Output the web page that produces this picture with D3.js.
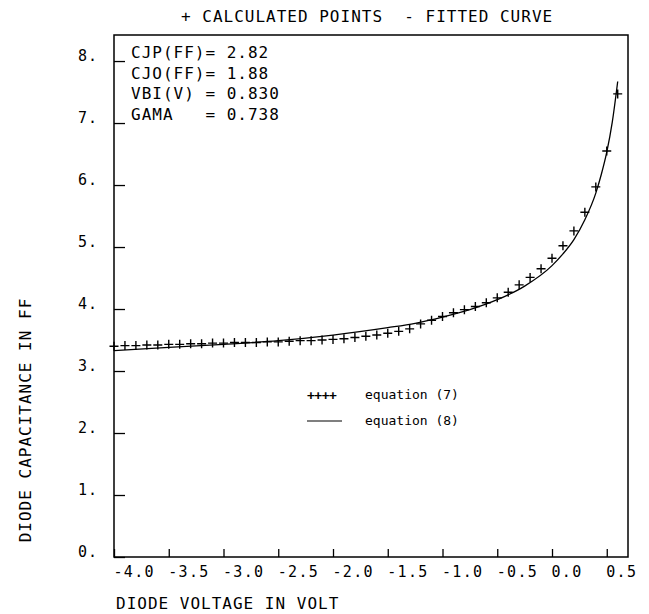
<!DOCTYPE html>
<html>
<head>
<meta charset="utf-8">
<script src="https://cdn.jsdelivr.net/npm/d3@7"></script>
<style>
  html, body { margin: 0; padding: 0; background: #fff; }
  svg { display: block; }
  text { font-family: "DejaVu Sans Mono", "Liberation Mono", monospace; fill: #000; white-space: pre; }
</style>
</head>
<body>
<svg id="chart" width="649" height="614"></svg>
<script>
// ---- data ----
const pointVoltage = [-4.0,-3.9,-3.8,-3.7,-3.6,-3.5,-3.4,-3.3,-3.2,-3.1,-3.0,-2.9,-2.8,-2.7,-2.6,-2.5,-2.4,-2.3,-2.2,-2.1,-2.0,-1.9,-1.8,-1.7,-1.6,-1.5,-1.4,-1.3,-1.2,-1.1,-1.0,-0.9,-0.8,-0.7,-0.6,-0.5,-0.4,-0.3,-0.2,-0.1,0.0,0.1,0.2,0.3,0.4,0.5,0.6];
const pointCap = [3.40,3.41,3.41,3.42,3.42,3.43,3.43,3.44,3.44,3.45,3.45,3.46,3.46,3.46,3.47,3.47,3.48,3.49,3.49,3.50,3.51,3.52,3.54,3.56,3.58,3.61,3.64,3.68,3.76,3.82,3.88,3.94,3.99,4.04,4.10,4.18,4.27,4.39,4.51,4.65,4.82,5.02,5.26,5.56,5.97,6.55,7.47];
const curveVoltage = [-4.0,-3.5,-3.0,-2.5,-2.0,-1.5,-1.25,-1.0,-0.75,-0.5,-0.25,0.0,0.1,0.2,0.3,0.4,0.45,0.5,0.55,0.6];
const curveCap = [3.33,3.38,3.43,3.49,3.58,3.70,3.77,3.87,3.99,4.15,4.37,4.70,4.89,5.12,5.44,5.87,6.17,6.53,7.01,7.67];
const xTickValues = [-4.0,-3.5,-3.0,-2.5,-2.0,-1.5,-1.0,-0.5,0.0,0.5];
const xTickLabels = ["-4.0","-3.5","-3.0","-2.5","-2.0","-1.5","-1.0","-0.5","0.0","0.5"];
const yTickValues = [0,1,2,3,4,5,6,7,8];
const yTickLabels = ["0.","1.","2.","3.","4.","5.","6.","7.","8."];
const paramLines = ["CJP(FF)= 2.82","CJO(FF)= 1.88","VBI(V) = 0.830","GAMA   = 0.738"];
const titleText = "+ CALCULATED POINTS  - FITTED CURVE";
const xTitle = "DIODE VOLTAGE IN VOLT";
const yTitle = "DIODE CAPACITANCE IN FF";
const legendItems = ["equation (7)", "equation (8)"];

// ---- layout ----
const L = 114, R = 628, T = 35, B = 557;
const svg = d3.select("#chart");
const x = d3.scaleLinear().domain([-4.0, 0.694]).range([L, R]);
const y = d3.scaleLinear().domain([0, 8.42]).range([B, T]);

// frame
svg.append("rect").attr("x", L).attr("y", T).attr("width", R - L).attr("height", B - T)
  .attr("fill", "none").attr("stroke", "#000").attr("stroke-width", 1.5);

// y axis (inward ticks)
const yAxis = d3.axisLeft(y).tickValues(yTickValues)
  .tickFormat((d, i) => yTickLabels[i]).tickSizeInner(-11).tickSizeOuter(0).tickPadding(16);
const gy = svg.append("g").attr("transform", `translate(${L},0)`).call(yAxis);
gy.select(".domain").remove();
gy.selectAll(".tick line").attr("stroke", "#000").attr("stroke-width", 1.3);
gy.selectAll(".tick text").attr("font-size", 15).attr("dy", "-1px")
  .style("font-family", '"DejaVu Sans Mono", monospace').attr("letter-spacing", 1);

// x axis (inward ticks, labels left-aligned at tick)
const xAxis = d3.axisBottom(x).tickValues(xTickValues)
  .tickFormat((d, i) => xTickLabels[i]).tickSizeInner(-8).tickSizeOuter(0).tickPadding(0);
const gx = svg.append("g").attr("transform", `translate(0,${B})`).call(xAxis);
gx.select(".domain").remove();
gx.selectAll(".tick line").attr("stroke", "#000").attr("stroke-width", 1.3);
gx.selectAll(".tick text").attr("font-size", 15).attr("text-anchor", "start")
  .attr("x", -1).attr("y", 20).attr("dy", 0)
  .style("font-family", '"DejaVu Sans Mono", monospace').attr("letter-spacing", 1.3);

// fitted curve
const line = d3.line().x((d, i) => x(curveVoltage[i])).y(d => y(d)).curve(d3.curveMonotoneX);
svg.append("path").datum(curveCap).attr("d", line)
  .attr("fill", "none").attr("stroke", "#000").attr("stroke-width", 1.3);

// calculated points (+ markers)
const half = 4.5;
const pts = svg.append("g");
pointCap.forEach((c, i) => {
  const px = x(pointVoltage[i]), py = y(c);
  pts.append("path")
    .attr("d", `M${px - half},${py}H${px + half}M${px},${py - half}V${py + half}`)
    .attr("stroke", "#000").attr("stroke-width", 1.4).attr("fill", "none");
});

// title
svg.append("text").attr("x", 181).attr("y", 22).attr("font-size", 16).attr("letter-spacing", 1)
  .text(titleText);

// parameter block
paramLines.forEach((t, i) => {
  svg.append("text").attr("x", 131).attr("y", 58 + i * 20.5).attr("font-size", 16)
    .attr("letter-spacing", 1).text(t);
});

// axis titles
svg.append("text").attr("x", 116).attr("y", 609).attr("font-size", 16).attr("letter-spacing", 1)
  .text(xTitle);
svg.append("text").attr("transform", "translate(31,420) rotate(-90)").attr("text-anchor", "middle")
  .attr("font-size", 16).attr("letter-spacing", 1).text(yTitle);

// legend
const lg = svg.append("g");
lg.append("text").attr("x", 307).attr("y", 400).attr("font-size", 13).attr("font-weight", "bold")
  .attr("letter-spacing", -0.5).text("++++");
lg.append("text").attr("x", 365).attr("y", 399).attr("font-size", 13).text(legendItems[0]);
lg.append("line").attr("x1", 307).attr("x2", 342).attr("y1", 421).attr("y2", 421)
  .attr("stroke", "#000").attr("stroke-width", 1.2);
lg.append("text").attr("x", 365).attr("y", 425).attr("font-size", 13).text(legendItems[1]);
</script>
</body>
</html>
